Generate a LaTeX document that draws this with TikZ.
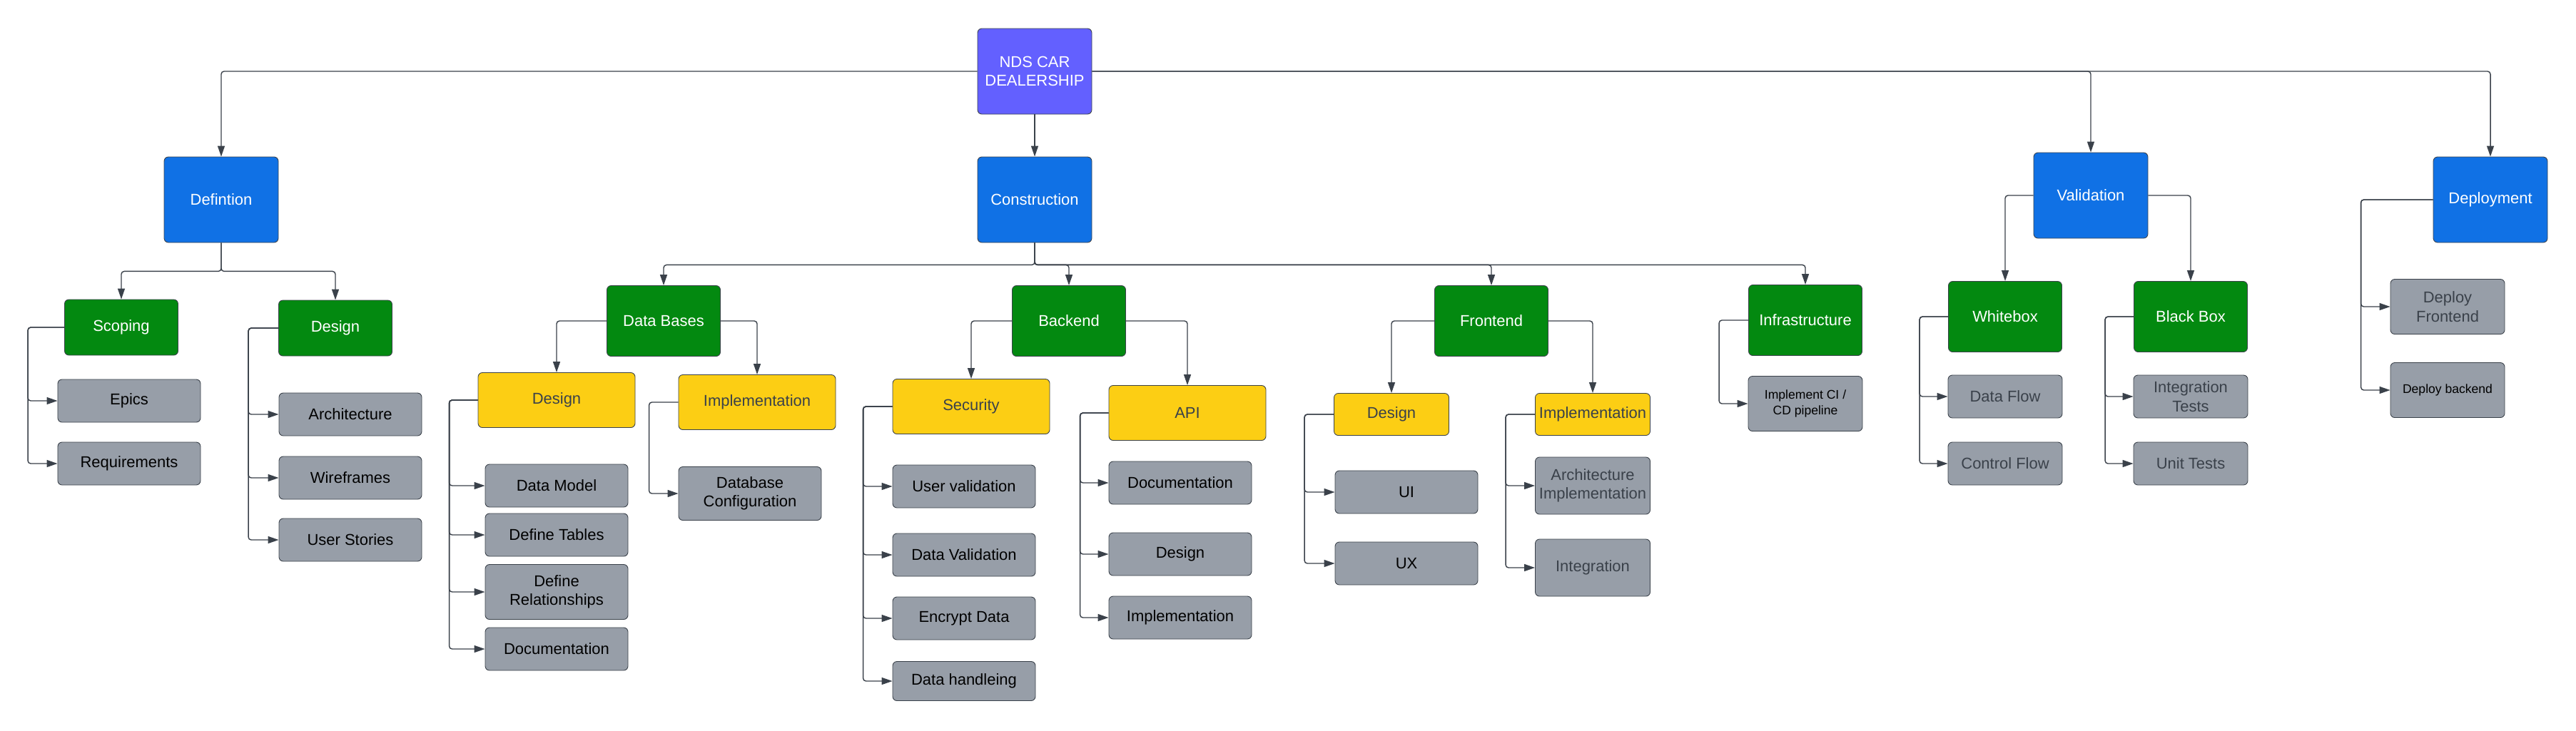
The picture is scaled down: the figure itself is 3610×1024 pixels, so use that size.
\documentclass[tikz,border=0pt]{standalone}
\usepackage{fontspec}
\setmainfont{Liberation Sans}
\usetikzlibrary{arrows.meta}

\definecolor{rootcol}{RGB}{99,96,255}
\definecolor{bluecol}{RGB}{16,113,229}
\definecolor{greencol}{RGB}{3,137,16}
\definecolor{yellowcol}{RGB}{252,206,20}
\definecolor{graycol}{RGB}{151,158,168}
\definecolor{linecol}{RGB}{58,65,74}

\tikzset{
  box/.style={draw=linecol, line width=0.5pt, rounded corners=1.2mm, align=center, inner sep=1pt, font=\fontsize{12.5pt}{15pt}\selectfont},
  rootbox/.style={box, fill=rootcol, text=white, minimum width=32mm, minimum height=24mm},
  phase/.style={box, fill=bluecol, text=white, minimum width=32mm, minimum height=24mm},
  part/.style={box, fill=greencol, text=white, minimum width=31.8mm, minimum height=19.8mm},
  sub/.style={box, fill=yellowcol, text=linecol},
  task/.style={box, fill=graycol, text=black},
  taskdim/.style={box, fill=graycol, text=linecol},
  small/.style={font=\fontsize{10pt}{13pt}\selectfont},
  link/.style={draw=linecol, line width=0.8pt, rounded corners=0.8mm, -{Triangle[length=3mm,width=2mm]}},
}

\begin{document}
\begin{tikzpicture}[x=0.2mm, y=-0.2mm]
        \useasboundingbox (0,0) rectangle (3610,1024);

        % Root
        \node[rootbox] (root) at (1450,100) {NDS CAR\\DEALERSHIP};

        % Phases
        \node[phase] (defn) at (310,280) {Defintion};
        \node[phase] (cons) at (1450,280) {Construction};
        \node[phase] (valid) at (2930,274) {Validation};
        \node[phase] (deploy) at (3490,280) {Deployment};

        \draw[link] (root.west) -| (defn.north);
        \draw[link] (root.south) -- (cons.north);
        \draw[link] (root.east) -| (valid.north);
        \draw[link] (root.east) -| (deploy.north);

        % Definition branch
        \node[part, minimum height=15.6mm] (scoping) at (170,459) {Scoping};
        \node[part, minimum height=15.6mm] (defdesign) at (470,460) {Design};
        \draw[link] (defn.south) -- ++(0,40) -| (scoping.north);
        \draw[link] (defn.south) -- ++(0,40) -| (defdesign.north);

        \node[task, minimum width=40mm, minimum height=12mm] (epics) at (181,562) {Epics};
        \node[task, minimum width=40mm, minimum height=12mm] (reqs) at (181,650) {Requirements};
        \draw[link] (scoping.west) -- ++(-51,0) |- (epics.west);
        \draw[link] (scoping.west) -- ++(-51,0) |- (reqs.west);

        \node[task, minimum width=40mm, minimum height=12mm] (arch) at (491,581) {Architecture};
        \node[task, minimum width=40mm, minimum height=12mm] (wire) at (491,670) {Wireframes};
        \node[task, minimum width=40mm, minimum height=12mm] (stories) at (491,757) {User Stories};
        \draw[link] (defdesign.west) -- ++(-42,0) |- (arch.west);
        \draw[link] (defdesign.west) -- ++(-42,0) |- (wire.west);
        \draw[link] (defdesign.west) -- ++(-42,0) |- (stories.west);

        % Construction branch
        \node[part] (dbases) at (930,450) {Data Bases};
        \node[part] (backend) at (1498,450) {Backend};
        \node[part] (frontend) at (2090,450) {Frontend};
        \node[part] (infra) at (2530,449) {Infrastructure};
        \draw[link] (cons.south) -- ++(0,31) -| (dbases.north);
        \draw[link] (cons.south) -- ++(0,31) -| (backend.north);
        \draw[link] (cons.south) -- ++(0,31) -| (frontend.north);
        \draw[link] (cons.south) -- ++(0,31) -| (infra.north);

        % Data Bases
        \node[sub, minimum width=44mm, minimum height=15.4mm] (dbdesign) at (780,561) {Design};
        \node[sub, minimum width=44mm, minimum height=15.4mm] (dbimpl) at (1061,564) {Implementation};
        \draw[link] (dbases.west) -| (dbdesign.north);
        \draw[link] (dbases.east) -| (dbimpl.north);

        \node[task, minimum width=40mm, minimum height=12mm] (datamodel) at (780,681) {Data Model};
        \node[task, minimum width=40mm, minimum height=12mm] (tables) at (780,750) {Define Tables};
        \node[task, minimum width=40mm, minimum height=15.4mm] (relations) at (780,830) {Define\\Relationships};
        \node[task, minimum width=40mm, minimum height=12mm] (dbdoc) at (780,910) {Documentation};
        \draw[link] (dbdesign.west) -- ++(-40,0) |- (datamodel.west);
        \draw[link] (dbdesign.west) -- ++(-40,0) |- (tables.west);
        \draw[link] (dbdesign.west) -- ++(-40,0) |- (relations.west);
        \draw[link] (dbdesign.west) -- ++(-40,0) |- (dbdoc.west);

        \node[task, minimum width=40mm, minimum height=15mm] (dbconfig) at (1051,692) {Database\\Configuration};
        \draw[link] (dbimpl.west) -- ++(-41,0) |- (dbconfig.west);

        % Backend
        \node[sub, minimum width=44mm, minimum height=15.4mm] (security) at (1361,570) {Security};
        \node[sub, minimum width=44mm, minimum height=15.4mm] (api) at (1664,579) {API};
        \draw[link] (backend.west) -| (security.north);
        \draw[link] (backend.east) -| (api.north);

        \node[task, minimum width=40mm, minimum height=12mm] (uservalid) at (1351,682) {User validation};
        \node[task, minimum width=40mm, minimum height=12mm] (datavalid) at (1351,778) {Data Validation};
        \node[task, minimum width=40mm, minimum height=12mm] (encrypt) at (1351,867) {Encrypt Data};
        \node[task, minimum width=40mm, minimum height=11mm] (handling) at (1351,955) {Data handleing};
        \draw[link] (security.west) -- ++(-41,0) |- (uservalid.west);
        \draw[link] (security.west) -- ++(-41,0) |- (datavalid.west);
        \draw[link] (security.west) -- ++(-41,0) |- (encrypt.west);
        \draw[link] (security.west) -- ++(-41,0) |- (handling.west);

        \node[task, minimum width=40mm, minimum height=12mm] (apidoc) at (1654,677) {Documentation};
        \node[task, minimum width=40mm, minimum height=12mm] (apidesign) at (1654,777) {Design};
        \node[task, minimum width=40mm, minimum height=12mm] (apiimpl) at (1654,866) {Implementation};
        \draw[link] (api.west) -- ++(-40,0) |- (apidoc.west);
        \draw[link] (api.west) -- ++(-40,0) |- (apidesign.west);
        \draw[link] (api.west) -- ++(-40,0) |- (apiimpl.west);

        % Frontend
        \node[sub, minimum width=32.2mm, minimum height=11.8mm] (fedesign) at (1950,581) {Design};
        \node[sub, minimum width=32.2mm, minimum height=11.8mm] (feimpl) at (2232,581) {Implementation};
        \draw[link] (frontend.west) -| (fedesign.north);
        \draw[link] (frontend.east) -| (feimpl.north);

        \node[task, minimum width=40mm, minimum height=12mm] (ui) at (1971,690) {UI};
        \node[task, minimum width=40mm, minimum height=12mm] (ux) at (1971,790) {UX};
        \draw[link] (fedesign.west) -- ++(-41,0) |- (ui.west);
        \draw[link] (fedesign.west) -- ++(-41,0) |- (ux.west);

        \node[taskdim, minimum width=32.2mm, minimum height=16mm] (archimpl) at (2232,681) {Architecture\\Implementation};
        \node[taskdim, minimum width=32.2mm, minimum height=16mm] (integ) at (2232,796) {Integration};
        \draw[link] (feimpl.west) -- ++(-41,0) |- (archimpl.west);
        \draw[link] (feimpl.west) -- ++(-41,0) |- (integ.west);

        % Infrastructure
        \node[task, small, minimum width=32mm, minimum height=15.4mm] (cicd) at (2530,566) {Implement CI /\\CD pipeline};
        \draw[link] (infra.west) -- ++(-41,0) |- (cicd.west);

        % Validation branch
        \node[part] (whitebox) at (2810,444) {Whitebox};
        \node[part] (blackbox) at (3070,444) {Black Box};
        \draw[link] (valid.west) -| (whitebox.north);
        \draw[link] (valid.east) -| (blackbox.north);

        \node[taskdim, minimum width=32mm, minimum height=12mm] (dataflow) at (2810,556) {Data Flow};
        \node[taskdim, minimum width=32mm, minimum height=12mm] (ctrlflow) at (2810,650) {Control Flow};
        \draw[link] (whitebox.west) -- ++(-40,0) |- (dataflow.west);
        \draw[link] (whitebox.west) -- ++(-40,0) |- (ctrlflow.west);

        \node[taskdim, minimum width=32mm, minimum height=12mm] (integtests) at (3070,556) {Integration\\Tests};
        \node[taskdim, minimum width=32mm, minimum height=12mm] (unittests) at (3070,650) {Unit Tests};
        \draw[link] (blackbox.west) -- ++(-40,0) |- (integtests.west);
        \draw[link] (blackbox.west) -- ++(-40,0) |- (unittests.west);

        % Deployment branch
        \node[taskdim, minimum width=32mm, minimum height=15.4mm] (depfront) at (3430,430) {Deploy\\Frontend};
        \node[task, small, minimum width=32mm, minimum height=15.4mm] (depback) at (3430,547) {Deploy backend};
        \draw[link] (deploy.west) -- ++(-101,0) |- (depfront.west);
        \draw[link] (deploy.west) -- ++(-101,0) |- (depback.west);
\end{tikzpicture}
\end{document}
